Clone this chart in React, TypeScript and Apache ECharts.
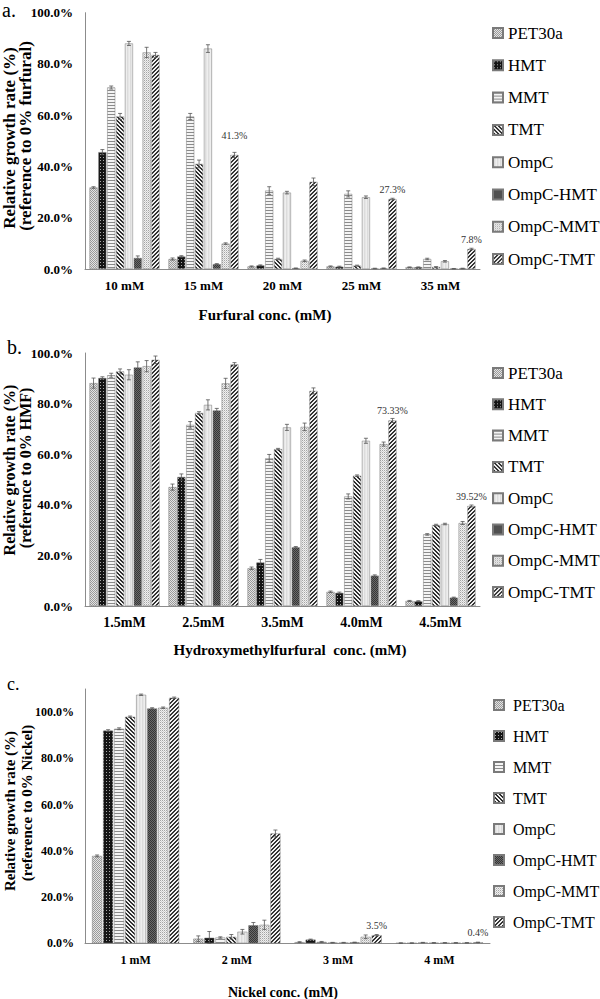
import React, { useEffect, useRef } from 'react';
import * as echarts from 'echarts';

const seriesNames = ['PET30a', 'HMT', 'MMT', 'TMT', 'OmpC', 'OmpC-HMT', 'OmpC-MMT', 'OmpC-TMT'];

// Panel a: furfural
const furfuralCats = ['10 mM', '15 mM', '20 mM', '25 mM', '35 mM'];
// rows follow seriesNames order
const furfuralValues = [
  [31.8, 3.9, 1.0, 1.0, 0.7],
  [45.6, 4.9, 1.4, 0.9, 0.7],
  [70.8, 59.5, 30.6, 29.3, 3.9],
  [59.5, 41.0, 3.9, 1.3, 0.8],
  [88.0, 86.0, 29.8, 28.0, 3.0],
  [4.3, 1.9, 0.3, 0.2, 0.1],
  [84.5, 9.9, 3.2, 0.3, 0.2],
  [83.5, 44.5, 34.0, 27.3, 7.8],
];
const furfuralErrors = [
  [0.3, 0.4, 0.2, 0.2, 0.1],
  [1.0, 0.3, 0.2, 0.2, 0.1],
  [0.6, 1.2, 1.5, 1.2, 0.3],
  [1.2, 1.5, 0.3, 0.2, 0.1],
  [0.8, 1.5, 0.5, 0.5, 0.3],
  [0.8, 0.2, 0.1, 0.1, 0.1],
  [2.0, 0.3, 0.3, 0.1, 0.1],
  [1.0, 1.0, 1.5, 0.3, 0.3],
];
const furfuralNotes = [
  { s: 7, c: 1, text: '41.3%' },
  { s: 7, c: 3, text: '27.3%' },
  { s: 7, c: 4, text: '7.8%' },
];

// Panel b: HMF
const hmfCats = ['1.5mM', '2.5mM', '3.5mM', '4.0mM', '4.5mM'];
const hmfValues = [
  [88.1, 47.0, 14.9, 5.6, 2.0],
  [90.1, 51.0, 17.2, 5.2, 1.9],
  [91.2, 71.6, 58.4, 43.3, 28.3],
  [92.7, 76.3, 62.0, 51.5, 32.0],
  [91.4, 79.5, 70.6, 65.3, 32.4],
  [94.3, 77.3, 23.2, 12.0, 3.3],
  [94.8, 88.0, 70.8, 64.0, 32.8],
  [97.3, 95.5, 85.0, 73.33, 39.52],
];
const hmfErrors = [
  [2.0, 1.2, 0.5, 0.3, 0.2],
  [0.5, 1.2, 1.2, 0.3, 0.2],
  [0.8, 1.3, 1.5, 1.0, 0.3],
  [1.0, 0.5, 0.3, 0.3, 0.3],
  [2.0, 2.0, 1.2, 1.0, 0.3],
  [2.2, 0.8, 0.3, 0.3, 0.2],
  [2.2, 2.0, 1.5, 0.8, 0.6],
  [1.5, 0.7, 1.2, 0.8, 0.4],
];
const hmfNotes = [
  { s: 7, c: 3, text: '73.33%' },
  { s: 7, c: 4, text: '39.52%' },
];

// Panel c: nickel
const nickelCats = ['1 mM', '2 mM', '3 mM', '4 mM'];
const nickelValues = [
  [37.8, 2.0, 0.5, 0.1],
  [92.0, 2.4, 1.6, 0.1],
  [92.8, 2.5, 0.6, 0.3],
  [98.0, 2.8, 0.3, 0.2],
  [107.5, 5.0, 0.3, 0.2],
  [101.6, 7.8, 0.4, 0.2],
  [101.9, 8.0, 2.8, 0.2],
  [106.2, 47.5, 3.5, 0.4],
];
const nickelErrors = [
  [0.4, 1.2, 0.2, 0.1],
  [0.4, 2.7, 0.2, 0.1],
  [0.4, 0.3, 0.2, 0.1],
  [0.3, 1.0, 0.1, 0.1],
  [0.3, 1.0, 0.1, 0.1],
  [0.3, 1.2, 0.1, 0.1],
  [0.3, 2.0, 0.8, 0.1],
  [0.3, 1.5, 0.3, 0.1],
];
const nickelNotes = [
  { s: 7, c: 2, text: '3.5%' },
  { s: 7, c: 3, text: '0.4%' },
];

const SERIF = "'Liberation Serif', 'Times New Roman', serif";

function makePattern(w: number, h: number, fn: (x: number, y: number) => string) {
  const cv = document.createElement('canvas');
  cv.width = w;
  cv.height = h;
  const ctx = cv.getContext('2d')!;
  for (let y = 0; y < h; y++) {
    for (let x = 0; x < w; x++) {
      ctx.fillStyle = fn(x, y);
      ctx.fillRect(x, y, 1, 1);
    }
  }
  return { image: cv.toDataURL(), repeat: 'repeat', imageWidth: w, imageHeight: h };
}

function buildPatterns() {
  return [
    makePattern(2, 2, (x, y) => ((x + y) % 2 === 0 ? '#9a9a9a' : '#e4e4e4')),
    makePattern(3, 3, (x, y) => (x === 1 && y === 1 ? '#a8a8a8' : '#141414')),
    makePattern(2, 3, (x, y) => (y === 0 ? '#8a8a8a' : '#f4f4f4')),
    makePattern(4, 4, (x, y) => ((((x - y) % 4) + 4) % 4 < 2 ? '#2e2e2e' : '#f2f2f2')),
    makePattern(3, 1, (x) => ['#eeeeee', '#dcdcdc', '#e6e6e6'][x]),
    makePattern(2, 2, (x, y) => ((x + y) % 2 === 0 ? '#363636' : '#6a6a6a')),
    makePattern(4, 4, (x, y) => (x % 2 === 0 && y % 2 === 0 ? '#a4a4a4' : x % 2 === 1 && y % 2 === 1 ? '#cfcfcf' : '#f0f0f0')),
    makePattern(4, 4, (x, y) => ((x + y) % 4 < 2 ? '#333333' : '#f2f2f2')),
  ];
}

export default function App() {
  const ref = useRef<HTMLDivElement>(null);

  useEffect(() => {
    if (!ref.current) return;
    const chart = echarts.init(ref.current, null, { renderer: 'svg' });
    const patterns = buildPatterns();

    const panels = [
      {
        cats: furfuralCats, values: furfuralValues, errors: furfuralErrors, notes: furfuralNotes,
        max: 100, grid: { left: 85, top: 12.7, width: 395, height: 256.3 },
        catGap: 0.114, barGap: 0.1, tickFont: 13, catFont: 13, catMargin: 10, yMargin: 12,
        legend: { left: 492, top: 24.5, itemGap: 15.3, fontSize: 17, pad: 0 },
      },
      {
        cats: hmfCats, values: hmfValues, errors: hmfErrors, notes: hmfNotes,
        max: 100, grid: { left: 85, top: 353, width: 395, height: 253 },
        catGap: 0.114, barGap: 0.1, tickFont: 13, catFont: 14, catMargin: 9, yMargin: 12,
        legend: { left: 492, top: 364.5, itemGap: 14.3, fontSize: 17, pad: 0 },
      },
      {
        cats: nickelCats, values: nickelValues, errors: nickelErrors, notes: nickelNotes,
        max: 110, grid: { left: 85, top: 689, width: 405, height: 254.3 },
        catGap: 0.14, barGap: 0.1, tickFont: 12, catFont: 12, catMargin: 11, yMargin: 11,
        legend: { left: 493, top: 697, itemGap: 15, fontSize: 16, pad: 4 },
      },
    ];

    const grids: any[] = [];
    const xAxes: any[] = [];
    const yAxes: any[] = [];
    const legends: any[] = [];
    const series: any[] = [];

    panels.forEach((p, pi) => {
      grids.push({ ...p.grid, containLabel: false });
      xAxes.push({
        type: 'category', gridIndex: pi, data: p.cats,
        axisLine: { lineStyle: { color: '#8c8c8c', width: 1 } },
        axisTick: { show: false },
        axisLabel: { fontFamily: SERIF, fontWeight: 'bold', fontSize: p.catFont, color: '#000', margin: p.catMargin },
      });
      yAxes.push({
        type: 'value', gridIndex: pi, min: 0, max: p.max, interval: 20,
        axisLine: { show: true, lineStyle: { color: '#8c8c8c', width: 1 } },
        axisTick: { show: false },
        splitLine: { show: false },
        axisLabel: {
          fontFamily: SERIF, fontWeight: 'bold', fontSize: p.tickFont, color: '#000', margin: p.yMargin,
          formatter: (v: number) => (v > 100 ? '' : v.toFixed(1) + '%'),
        },
      });
      legends.push({
        orient: 'vertical', left: p.legend.left, top: p.legend.top, itemGap: p.legend.itemGap,
        padding: 0,
        itemWidth: 10, itemHeight: 10, icon: 'rect', selectedMode: false,
        data: seriesNames,
        textStyle: {
          fontFamily: SERIF, fontSize: p.legend.fontSize, lineHeight: p.legend.fontSize, color: '#000',
          padding: [0, 0, 0, p.legend.pad],
        },
      });
      p.values.forEach((row, s) => {
        series.push({
          type: 'bar', name: seriesNames[s], xAxisIndex: pi, yAxisIndex: pi,
          barCategoryGap: (p.catGap * 100).toFixed(1) + '%', barGap: (p.barGap * 100) + '%',
          itemStyle: { color: patterns[s], borderColor: '#7a7a7a', borderWidth: 0.5 },
          emphasis: { disabled: true },
          data: row.map((v, c) => {
            const note = p.notes.find((n) => n.s === s && n.c === c);
            if (!note) return v;
            return {
              value: v,
              label: {
                show: true, position: 'top', distance: c === 1 && pi === 0 ? 14 : 5,
                formatter: note.text, fontFamily: SERIF, fontSize: 10, color: '#333',
                textBorderWidth: 0,
              },
            };
          }),
        });
      });
      const errData: number[][] = [];
      p.values.forEach((row, s) => row.forEach((v, c) => errData.push([c, v, p.errors[s][c], s])));
      const catGap = p.catGap;
      const barGap = p.barGap;
      series.push({
        type: 'custom', xAxisIndex: pi, yAxisIndex: pi, silent: true, z: 5,
        encode: { x: 0, y: 1 },
        data: errData,
        renderItem: (params: any, api: any) => {
          const c = api.value(0);
          const v = api.value(1);
          const e = api.value(2);
          const s = api.value(3);
          const band = api.size([1, 0])[0];
          const n = seriesNames.length;
          const groupW = band * (1 - catGap);
          const bw = groupW / (n + (n - 1) * barGap);
          const base = api.coord([c, v]);
          const cx = base[0] - groupW / 2 + s * bw * (1 + barGap) + bw / 2;
          const yt = api.coord([c, v + e])[1];
          const yb = api.coord([c, Math.max(v - e, 0)])[1];
          const st = { stroke: '#555', lineWidth: 0.8, fill: null };
          return {
            type: 'group',
            children: [
              { type: 'line', shape: { x1: cx, y1: yt, x2: cx, y2: yb }, style: st },
              { type: 'line', shape: { x1: cx - 2, y1: yt, x2: cx + 2, y2: yt }, style: st },
              { type: 'line', shape: { x1: cx - 2, y1: yb, x2: cx + 2, y2: yb }, style: st },
            ],
          };
        },
      });
    });

    const txt = (x: number, y: number, text: string, font: string, rot = 0, align = 'center') => ({
      type: 'text', x, y, rotation: rot, silent: true,
      style: {
        text, font, fill: '#000',
        align, verticalAlign: 'middle', textAlign: align, textVerticalAlign: 'middle',
      },
    });

    const graphics = [
      txt(2, 10, 'a.', `20px ${SERIF}`, 0, 'left'),
      txt(7, 347, 'b.', `20px ${SERIF}`, 0, 'left'),
      txt(7, 683.5, 'c.', `18px ${SERIF}`, 0, 'left'),
      txt(9, 138, 'Relative growth rate (%)', `bold 17px ${SERIF}`, Math.PI / 2),
      txt(25, 136, '(reference to 0% furfural)', `bold 17px ${SERIF}`, Math.PI / 2),
      txt(9, 470, 'Relative growth rate (%)', `bold 16px ${SERIF}`, Math.PI / 2),
      txt(25, 468, '(reference to 0% HMF)', `bold 16px ${SERIF}`, Math.PI / 2),
      txt(10, 811, 'Relative growth rate (%)', `bold 15px ${SERIF}`, Math.PI / 2),
      txt(27, 803, '(reference to 0% Nickel)', `bold 15px ${SERIF}`, Math.PI / 2),
      txt(265, 315, 'Furfural conc. (mM)', `bold 15px ${SERIF}`),
      txt(290, 650, 'Hydroxymethylfurfural  conc. (mM)', `bold 15px ${SERIF}`),
      txt(283, 992, 'Nickel conc. (mM)', `bold 14px ${SERIF}`),
    ];

    chart.setOption({
      animation: false,
      backgroundColor: '#ffffff',
      grid: grids,
      xAxis: xAxes,
      yAxis: yAxes,
      legend: legends,
      series,
      graphic: graphics,
    });

    return () => chart.dispose();
  }, []);

  return <div ref={ref} style={{ position: 'absolute', left: 0, top: 0, width: 600, height: 999 }} />;
}
